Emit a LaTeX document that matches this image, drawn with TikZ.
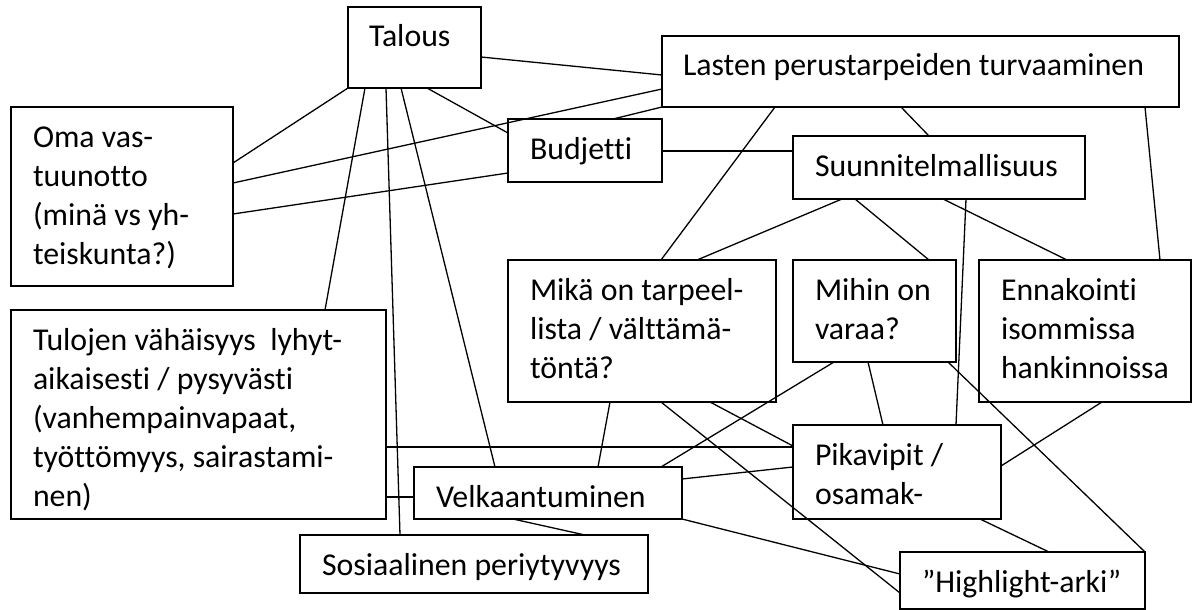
\documentclass[tikz,border=0pt]{standalone}
\usepackage{fontspec}
\setmainfont{Carlito}[Ligatures={NoCommon}]
\begin{document}
\begin{tikzpicture}[x=1pt,y=-1pt,
  bx/.style={draw=black,line width=1.7pt,rectangle,anchor=north west,inner sep=0pt,outer sep=0pt,fill=white},
  txt/.style={anchor=north west,inner sep=0pt,outer sep=0pt,align=left,font=\fontsize{31.8}{39}\selectfont},
  conn/.style={draw=black,line width=1.3pt}]
\useasboundingbox (0,0) rectangle (1197,610);
% ---------- box nodes (outlines drawn after the connectors) ----------
\path
 (348,7)   node[bx,draw=none,fill=none,minimum width=133,minimum height=81]  (talous) {}
 (662,36)  node[bx,draw=none,fill=none,minimum width=517,minimum height=71]  (lasten) {}
 (11,107)  node[bx,draw=none,fill=none,minimum width=222,minimum height=179] (oma) {}
 (508,119) node[bx,draw=none,fill=none,minimum width=154,minimum height=63]  (budjetti) {}
 (793,136) node[bx,draw=none,fill=none,minimum width=292,minimum height=63]  (suunn) {}
 (508,260) node[bx,draw=none,fill=none,minimum width=268,minimum height=142] (mika) {}
 (793,260) node[bx,draw=none,fill=none,minimum width=163,minimum height=102] (mihin) {}
 (979,260) node[bx,draw=none,fill=none,minimum width=212,minimum height=142] (ennak) {}
 (11,310)  node[bx,draw=none,fill=none,minimum width=375,minimum height=209] (tulojen) {}
 (414,467) node[bx,draw=none,fill=none,minimum width=268,minimum height=52]  (velk) {}
 (793,425) node[bx,draw=none,fill=none,minimum width=208,minimum height=94]  (pika) {}
 (300,535) node[bx,draw=none,fill=none,minimum width=348,minimum height=58]  (sos) {}
 (900,552) node[bx,draw=none,fill=none,minimum width=245,minimum height=57]  (high) {};

% ---------- connectors ----------
\draw[conn] ([shift={(133,50)}]talous.north west) -- ([shift={(0,39)}]lasten.north west);
\draw[conn] ([shift={(0,81)}]talous.north west) -- ([shift={(222,56)}]oma.north west);
\draw[conn] ([shift={(222,76)}]oma.north west) -- ([shift={(0,53)}]lasten.north west);
\draw[conn] ([shift={(222,107)}]oma.north west) -- ([shift={(0,54)}]budjetti.north west);
\draw[conn] ([shift={(79,81)}]talous.north west) -- ([shift={(0,14)}]budjetti.north west);
\draw[conn] ([shift={(17,81)}]talous.north west) -- ([shift={(314,0)}]tulojen.north west);
\draw[conn] ([shift={(38,81)}]talous.north west) -- ([shift={(100,0)}]sos.north west);
\draw[conn] ([shift={(53,81)}]talous.north west) -- ([shift={(81,0)}]velk.north west);
\draw[conn] ([shift={(105,0)}]budjetti.north west) -- ([shift={(0,71)}]lasten.north west);
\draw[conn] ([shift={(154,32)}]budjetti.north west) -- ([shift={(0,15)}]suunn.north west);
\draw[conn] ([shift={(113,71)}]lasten.north west) -- ([shift={(153,0)}]mika.north west);
\draw[conn] ([shift={(239,71)}]lasten.north west) -- ([shift={(136,0)}]suunn.north west);
\draw[conn] ([shift={(483,71)}]lasten.north west) -- ([shift={(181,0)}]ennak.north west);
\draw[conn] ([shift={(49,63)}]suunn.north west) -- ([shift={(189,0)}]mika.north west);
\draw[conn] ([shift={(62,63)}]suunn.north west) -- ([shift={(136,0)}]mihin.north west);
\draw[conn] ([shift={(150,63)}]suunn.north west) -- ([shift={(88,0)}]ennak.north west);
\draw[conn] ([shift={(173,63)}]suunn.north west) -- ([shift={(163,0)}]pika.north west);
\draw[conn] ([shift={(102,142)}]mika.north west) -- ([shift={(184,0)}]velk.north west);
\draw[conn] ([shift={(153,142)}]mika.north west) -- ([shift={(0,41)}]high.north west);
\draw[conn] ([shift={(202,142)}]mika.north west) -- ([shift={(0,21)}]pika.north west);
\draw[conn] ([shift={(41,102)}]mihin.north west) -- ([shift={(247,0)}]velk.north west);
\draw[conn] ([shift={(75,102)}]mihin.north west) -- ([shift={(90,0)}]pika.north west);
\draw[conn] ([shift={(155,102)}]mihin.north west) -- (high.north east);
\draw[conn] ([shift={(123,142)}]ennak.north west) -- ([shift={(208,41)}]pika.north west);
\draw[conn] ([shift={(375,137)}]tulojen.north west) -- ([shift={(0,22)}]pika.north west);
\draw[conn] ([shift={(375,187)}]tulojen.north west) -- ([shift={(0,30)}]velk.north west);
\draw[conn] ([shift={(268,12)}]velk.north west) -- ([shift={(0,42)}]pika.north west);
\draw[conn] (velk.south east) -- ([shift={(0,22)}]high.north west);
\draw[conn] ([shift={(99,52)}]velk.north west) -- ([shift={(285,0)}]sos.north west);
\draw[conn] ([shift={(187,94)}]pika.north west) -- ([shift={(149,0)}]high.north west);

% ---------- box outlines ----------
\foreach \n in {talous,lasten,oma,budjetti,suunn,mika,mihin,ennak,tulojen,velk,pika,sos,high}
  \draw[line width=1.7pt] (\n.north west) rectangle (\n.south east);

% ---------- texts ----------
\node[txt] (t1)  at ([shift={(21,12.7)}]talous.north west)   {\strut Talous};
\node[txt] (t2)  at ([shift={(21,12.7)}]lasten.north west)   {\strut Lasten perustarpeiden turvaaminen};
\node[txt] (t3)  at ([shift={(22,12.7)}]oma.north west)      {\strut Oma vas-\\tuunotto\\(minä vs yh-\\teiskunta?)};
\node[txt] (t4)  at ([shift={(22,12.7)}]budjetti.north west) {\strut Budjetti};
\node[txt] (t5)  at ([shift={(22,12.7)}]suunn.north west)    {\strut Suunnitelmallisuus};
\node[txt] (t6)  at ([shift={(22,12.7)}]mika.north west)     {\strut Mikä on tarpeel-\\lista / välttämä-\\töntä?};
\node[txt] (t7)  at ([shift={(22,12.7)}]mihin.north west)    {\strut Mihin on\\varaa?};
\node[txt] (t8)  at ([shift={(22,12.7)}]ennak.north west)    {\strut Ennakointi\\isommissa\\hankinnoissa};
\node[txt] (t9)  at ([shift={(22,12.7)}]tulojen.north west)  {\strut Tulojen vähäisyys\ \ lyhyt-\\aikaisesti / pysyvästi\\(vanhempainvapaat,\\työttömyys, sairastami-\\nen)};
\node[txt] (t10) at ([shift={(22,12.7)}]velk.north west)     {\strut Velkaantuminen};
\node[txt] (t11) at ([shift={(22,12.7)}]pika.north west)     {\strut Pikavipit /\\osamak-};
\node[txt] (t12) at ([shift={(22,12.7)}]sos.north west)      {\strut Sosiaalinen periytyvyys};
\node[txt] (t13) at ([shift={(22,12.7)}]high.north west)     {\strut ”Highlight-arki”};
\end{tikzpicture}
\end{document}
